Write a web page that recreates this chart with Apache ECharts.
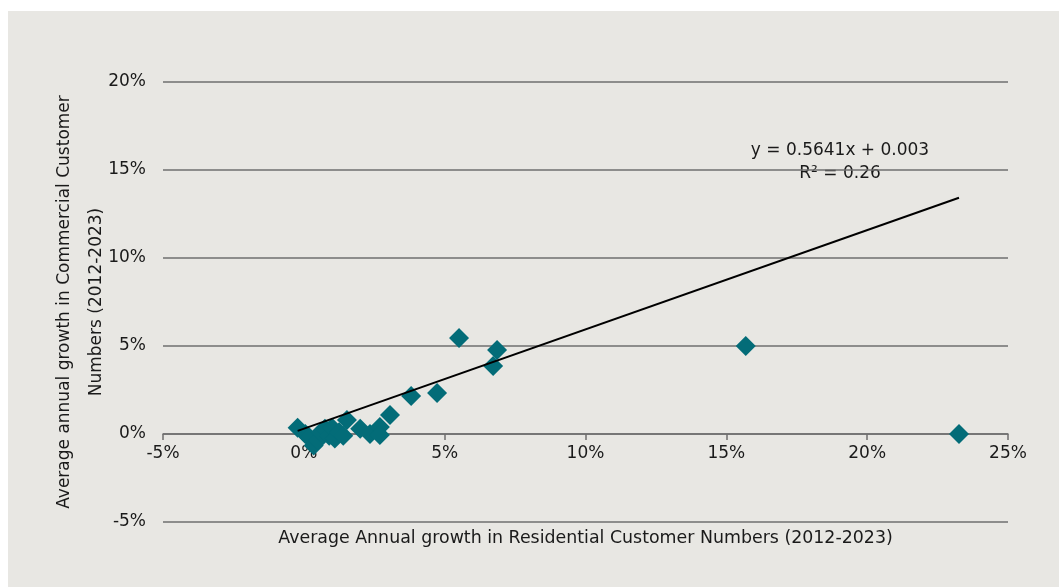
<!DOCTYPE html>
<html>
<head>
<meta charset="utf-8">
<script src="https://cdn.jsdelivr.net/npm/echarts@6/dist/echarts.min.js"></script>
<style>
  html, body { margin: 0; padding: 0; background: #ffffff; }
  #panel { position: absolute; left: 8px; top: 11px; width: 1051px; height: 576px; background: #e8e7e3; }
  #chart { position: absolute; left: 0; top: 0; width: 1059px; height: 587px; }
</style>
</head>
<body>
<div id="panel"></div>
<div id="chart"></div>
<script>
// Average annual growth (%) in residential customer numbers, 2012-2023
const residentialGrowth = [
  -0.22, 0.05, 0.2, 0.35, 0.5, 0.6, 0.75, 0.9, 1.0, 1.1, 1.25, 1.4,
  1.53, 2.0, 2.35, 2.7, 2.7, 3.06, 3.81, 4.73, 5.51, 6.72, 6.86, 15.69, 23.26
];
// Average annual growth (%) in commercial customer numbers, 2012-2023
const commercialGrowth = [
  0.36, 0.0, -0.2, -0.65, -0.35, 0.1, 0.3, -0.1, 0.35, -0.25, 0.1, -0.1,
  0.8, 0.3, 0.0, 0.4, -0.05, 1.08, 2.16, 2.33, 5.45, 3.86, 4.77, 5.0, 0.0
];
// Axis ticks (%)
const xTicks = [-5, 0, 5, 10, 15, 20, 25];
const yTicks = [-5, 0, 5, 10, 15, 20];
// Linear fit reported for the data (fractions)
const fitSlope = 0.5641;
const fitIntercept = 0.003;
const fitR2 = 0.26;

const points = residentialGrowth.map((x, i) => [x, commercialGrowth[i]]);
const xMin = Math.min(...residentialGrowth);
const xMax = Math.max(...residentialGrowth);
const fitY = x => (fitSlope * (x / 100) + fitIntercept) * 100;
const fitLine = [[xMin, fitY(xMin)], [xMax, fitY(xMax)]];

const font = '"DejaVu Sans", "Liberation Sans", sans-serif';
const textColor = '#1a1a1a';
const gridColor = '#6f6f6f';

const chart = echarts.init(document.getElementById('chart'), null, { renderer: 'canvas' });
chart.setOption({
  backgroundColor: 'transparent',
  animation: false,
  grid: { left: 163, right: 51, top: 82, bottom: 65, containLabel: false, outerBoundsMode: 'none' },
  xAxis: {
    type: 'value',
    min: xTicks[0], max: xTicks[xTicks.length - 1], interval: 5,
    name: 'Average Annual growth in Residential Customer Numbers (2012-2023)',
    nameLocation: 'middle', nameGap: 8, nameMoveOverlap: false,
    nameTextStyle: { fontFamily: font, fontSize: 17.4, color: textColor },
    axisLine: { show: true, onZero: true, lineStyle: { color: gridColor, width: 1.5 } },
    axisTick: { show: true, inside: false, length: 6, lineStyle: { color: gridColor, width: 1.5 } },
    axisLabel: { fontFamily: font, fontSize: 17, color: textColor, margin: -77, formatter: v => v + '%' },
    splitLine: { show: false }
  },
  yAxis: {
    type: 'value',
    min: yTicks[0], max: yTicks[yTicks.length - 1], interval: 5,
    name: 'Average annual growth in Commercial Customer\nNumbers (2012-2023)',
    nameLocation: 'middle', nameGap: 50, nameRotate: 90, nameMoveOverlap: false,
    nameTextStyle: { fontFamily: font, fontSize: 17, color: textColor, lineHeight: 32 },
    axisLine: { show: false },
    axisTick: { show: false },
    axisLabel: { fontFamily: font, fontSize: 17, color: textColor, margin: 17, formatter: v => v + '%' },
    splitLine: { show: true, lineStyle: { color: gridColor, width: 1.5 } }
  },
  series: [
    {
      type: 'scatter',
      data: points,
      symbol: 'diamond',
      symbolSize: [20, 20],
      itemStyle: { color: '#036c78', opacity: 1 },
      z: 2
    },
    {
      type: 'line',
      data: fitLine,
      symbol: 'none',
      lineStyle: { color: '#000000', width: 2 },
      z: 3
    }
  ],
  graphic: [
    {
      type: 'text', x: 840, y: 151,
      style: {
        text: 'y = ' + fitSlope + 'x + ' + fitIntercept,
        font: '17px ' + font, fill: textColor,
        textAlign: 'center', textVerticalAlign: 'middle'
      }
    },
    {
      type: 'text', x: 840, y: 174,
      style: {
        text: 'R² = ' + fitR2.toFixed(2),
        font: '17px ' + font, fill: textColor,
        textAlign: 'center', textVerticalAlign: 'middle'
      }
    }
  ]
});
</script>
</body>
</html>
